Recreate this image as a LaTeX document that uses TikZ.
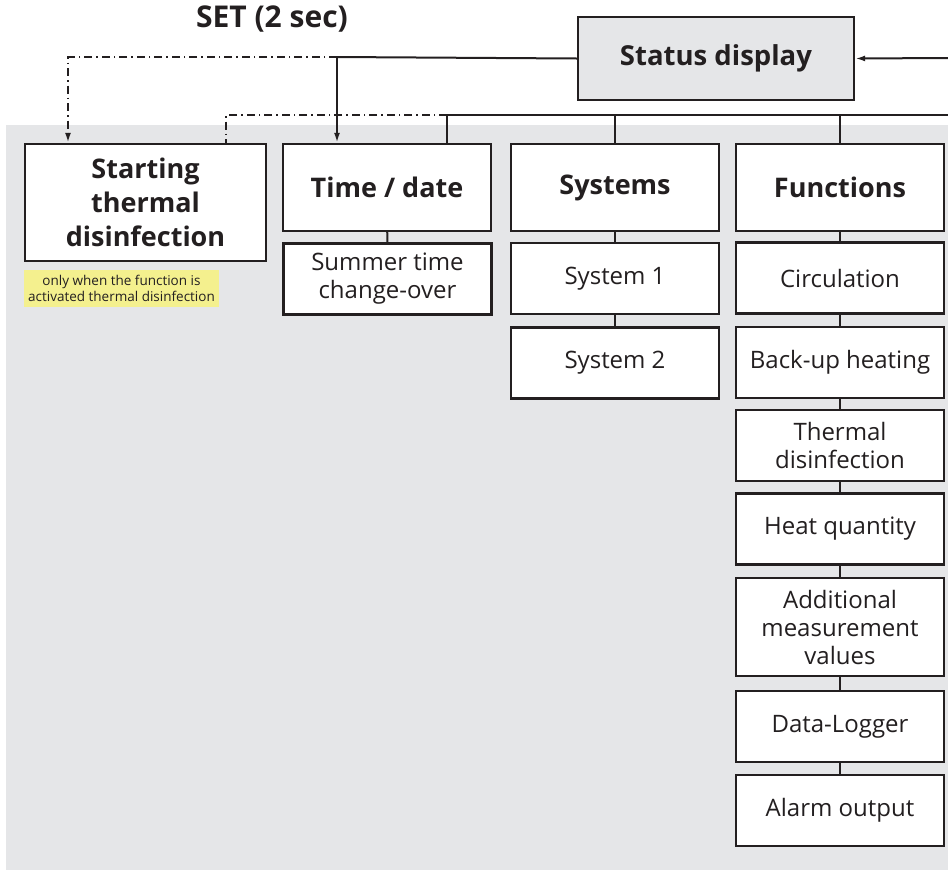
\documentclass[tikz,border=0pt]{standalone}
\usepackage{fontspec}
\setmainfont{Open Sans}
\usetikzlibrary{arrows.meta}
\definecolor{panelgray}{HTML}{E5E6E8}
\definecolor{noteyellow}{HTML}{F4F08E}
\definecolor{inkgray}{HTML}{231F20}

\begin{document}
\begin{tikzpicture}[x=1pt,y=-1pt,color=inkgray,line width=2pt,
        >={Latex[length=10pt,width=6pt]},
        box/.style={draw=inkgray,line width=2.4pt,fill=white,align=center,inner sep=0pt,
            minimum width=208pt,minimum height=71pt,font=\fontsize{24}{28}\selectfont},
        headbox/.style={box,minimum height=87pt,font=\bfseries\fontsize{27}{34}\selectfont},
        dashdot/.style={dash pattern=on 8pt off 4pt on 1.5pt off 4pt}]
        \useasboundingbox (0,0) rectangle (948,871);
        \fill[panelgray] (6,125) rectangle (948,870);

        % top of the menu
        \node[font=\bfseries\fontsize{30}{36}\selectfont] (setlabel) at (272,19) {SET (2 sec)};
        \node[box,fill=panelgray,minimum width=276pt,minimum height=83pt,font=\bfseries\fontsize{27.5}{34}\selectfont] (status) at (716,58.5) {Status display};

        % main entries
        \node[headbox,minimum width=241pt,minimum height=117pt] (start) at (145.5,202.5) {Starting\\thermal\\disinfection};
        \node[headbox] (timedate) at (387,187.5) {Time / date};
        \node[headbox] (systems) at (615,187.5) {Systems};
        \node[headbox] (functions) at (840,187.5) {Functions};

        \node[fill=noteyellow,align=center,inner sep=0pt,minimum width=195pt,minimum height=37pt,
            font=\fontsize{13.5}{16}\selectfont] (note) at (121.5,288.5) {only when the function is\\activated thermal disinfection};

        % sub entries
        \node[box] (summer) at (387.5,279) {Summer time\\change-over};
        \node[box] (sys1) at (615,278.5) {System 1};
        \node[box] (sys2) at (615,363) {System 2};
        \node[box] (circ) at (840,278) {Circulation};
        \node[box] (backup) at (840,362.5) {Back-up heating};
        \node[box] (thermal) at (840,445.5) {Thermal\\disinfection};
        \node[box] (heat) at (840,529) {Heat quantity};
        \node[box,minimum height=98pt] (addl) at (840,627) {Additional\\measurement\\values};
        \node[box] (logger) at (840,726.5) {Data-Logger};
        \node[box] (alarm) at (840,810.5) {Alarm output};

        % connectors
        \coordinate (tdin) at (337,57);
        \coordinate (stleft) at (68,57);
        \coordinate (retR) at (948,58);
        \coordinate (busR) at (948,115);
        \coordinate (busL) at (447,115);
        \coordinate (busend) at (226,115);
        \draw (status.west) -- (tdin);
        \draw[->] (tdin) -- (tdin |- timedate.north);
        \draw[dashdot,->] (tdin) -- (stleft) -- (stleft |- start.north);
        \draw[->] (retR) -- (status.east);
        \draw (busR) -- (busL);
        \draw[dashdot] (busL) -- (busend) -- (busend |- start.north);
        \draw (busL) -- (busL |- timedate.north);
        \draw (systems.north |- busR) -- (systems.north);
        \draw (functions.north |- busR) -- (functions.north);
        \draw (timedate) -- (summer);
        \draw (systems) -- (sys1);
        \draw (sys1) -- (sys2);
        \draw (functions) -- (circ);
        \draw (circ) -- (backup);
        \draw (backup) -- (thermal);
        \draw (thermal) -- (heat);
        \draw (heat) -- (addl);
        \draw (addl) -- (logger);
        \draw (logger) -- (alarm);
    \end{tikzpicture}
\end{document}
